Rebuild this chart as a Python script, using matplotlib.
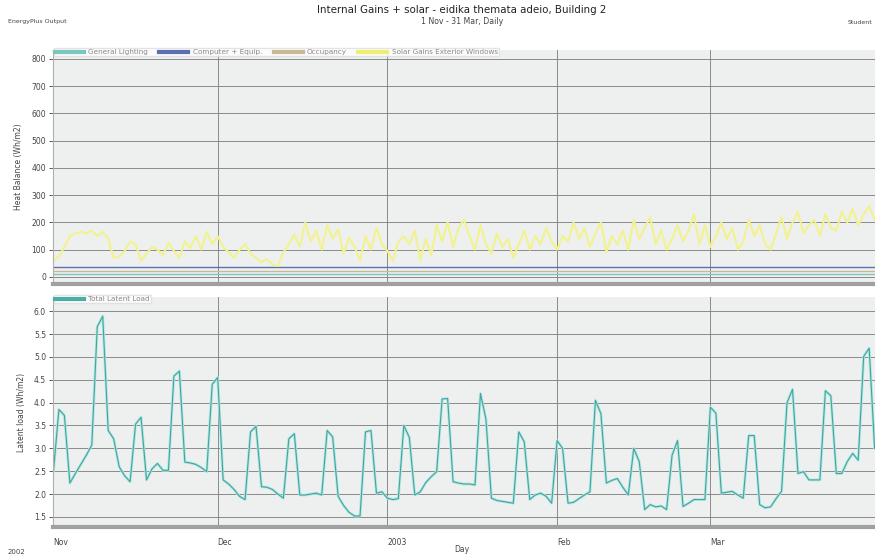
import numpy as np
import pandas as pd
import matplotlib
matplotlib.use("Agg")
import matplotlib.pyplot as plt
import matplotlib.dates as mdates

# ---------------- data ----------------
dates = pd.date_range("2002-11-01", "2003-03-31", freq="D")

latent_load = [
    # Nov
    2.50, 3.85, 3.72, 2.24, 2.45, 2.65, 2.85, 3.07, 5.66, 5.89,
    3.39, 3.21, 2.60, 2.40, 2.27, 3.53, 3.68, 2.31, 2.55, 2.67,
    2.52, 2.52, 4.58, 4.69, 2.70, 2.68, 2.65, 2.58, 2.49, 4.40,
    # Dec
    4.55, 2.31, 2.22, 2.10, 1.95, 1.88, 3.36, 3.48, 2.16, 2.15,
    2.10, 2.00, 1.91, 3.21, 3.32, 1.98, 1.98, 2.00, 2.02, 1.98,
    3.39, 3.25, 1.95, 1.75, 1.60, 1.52, 1.52, 3.36, 3.39, 2.02,
    2.05,
    # Jan
    1.91, 1.88, 1.90, 3.50, 3.24, 1.98, 2.05, 2.25, 2.38, 2.49,
    4.08, 4.09, 2.27, 2.24, 2.22, 2.22, 2.20, 4.20, 3.64, 1.91,
    1.86, 1.84, 1.82, 1.80, 3.36, 3.14, 1.88, 1.98, 2.02, 1.95,
    1.80,
    # Feb
    3.17, 3.00, 1.80, 1.82, 1.90, 1.98, 2.05, 4.05, 3.76, 2.24,
    2.30, 2.34, 2.15, 1.98, 3.00, 2.71, 1.66, 1.77, 1.72, 1.74,
    1.66, 2.85, 3.17, 1.73, 1.80, 1.88, 1.88, 1.88,
    # Mar
    3.90, 3.77, 2.02, 2.04, 2.06, 1.98, 1.91, 3.28, 3.28, 1.77,
    1.70, 1.72, 1.90, 2.06, 4.00, 4.29, 2.45, 2.49, 2.31, 2.31,
    2.31, 4.26, 4.15, 2.45, 2.45, 2.71, 2.89, 2.74, 5.01, 5.19,
    3.00,
]

solar_gains = [
    # Nov
    60, 75, 110, 150, 160, 165, 160, 170, 150, 165,
    140, 70, 75, 95, 130, 120, 60, 85, 110, 100,
    80, 125, 95, 70, 130, 105, 150, 100, 165, 120,
    # Dec
    150, 110, 90, 70, 100, 120, 85, 70, 55, 65,
    45, 40, 90, 120, 155, 110, 200, 130, 170, 100,
    190, 140, 175, 85, 145, 110, 60, 150, 100, 180,
    120,
    # Jan
    95, 60, 130, 150, 120, 170, 60, 140, 80, 190,
    130, 200, 110, 180, 210, 150, 100, 190, 120, 85,
    160, 110, 140, 70, 120, 170, 100, 150, 120, 180,
    130,
    # Feb
    100, 150, 130, 200, 140, 180, 110, 160, 200, 90,
    150, 120, 170, 100, 210, 140, 180, 220, 120, 170,
    100, 140, 190, 130, 170, 230, 120, 190,
    # Mar
    110, 150, 200, 140, 180, 100, 130, 210, 150, 190,
    120, 100, 160, 220, 140, 200, 240, 160, 190, 210,
    150, 230, 180, 170, 240, 200, 250, 190, 230, 260,
    210,
]

computer_equip = [38] * len(dates)
occupancy = [20] * len(dates)
general_lighting = [10] * len(dates)

top_series_names = ["General Lighting", "Computer + Equip.", "Occupancy",
                    "Solar Gains Exterior Windows"]
top_colors = ["#7cc6c0", "#5b6fb2", "#c8b896", "#eeee70"]

month_ticks = pd.to_datetime(["2002-11-01", "2002-12-01", "2003-01-01",
                              "2003-02-01", "2003-03-01"])
month_labels = ["Nov", "Dec", "2003", "Feb", "Mar"]
top_yticks = [0, 100, 200, 300, 400, 500, 600, 700, 800]
bot_yticks = [1.5, 2.0, 2.5, 3.0, 3.5, 4.0, 4.5, 5.0, 5.5, 6.0]

# ---------------- figure ----------------
W, H = 875, 558
fig = plt.figure(figsize=(W / 100, H / 100), dpi=100)
fig.patch.set_facecolor("white")

def ax_rect(x0, y0, x1, y1):
    return [x0 / W, 1 - y1 / H, (x1 - x0) / W, (y1 - y0) / H]

ax1 = fig.add_axes(ax_rect(53, 50, 876, 284))
ax2 = fig.add_axes(ax_rect(53, 297, 876, 527))

xmin = dates[0] - pd.Timedelta(hours=2)
xmax = dates[-1] + pd.Timedelta(hours=6)

for ax in (ax1, ax2):
    ax.set_facecolor("#eef0ef")
    ax.set_xlim(xmin, xmax)
    ax.set_xticks(month_ticks)
    ax.grid(True, axis="both", color="#7a7a7a", linewidth=0.6)
    ax.set_axisbelow(True)
    for s in ("top", "right"):
        ax.spines[s].set_visible(False)
    ax.spines["left"].set_color("#b0b0b0")
    ax.spines["bottom"].set_color("#a0a0a0")
    ax.spines["bottom"].set_linewidth(3)
    ax.tick_params(axis="y", labelsize=5.5, colors="#444444", length=3,
                   width=0.6, pad=2)
    ax.tick_params(axis="x", length=0)

# top panel
ax1.set_ylim(-26, 833)
ax1.set_yticks(top_yticks)
ax1.set_yticklabels([str(v) for v in top_yticks])
ax1.set_xticklabels([])
ax1.plot(dates, general_lighting, color=top_colors[0], lw=1.0,
         label=top_series_names[0])
ax1.plot(dates, computer_equip, color=top_colors[1], lw=1.0,
         label=top_series_names[1])
ax1.plot(dates, occupancy, color=top_colors[2], lw=1.0,
         label=top_series_names[2])
ax1.plot(dates, solar_gains, color="#f2f28e", lw=1.5,
         label=top_series_names[3])
ax1.set_ylabel("Heat Balance (Wh/m2)", fontsize=5.5, color="#444444",
               labelpad=6)
leg1 = ax1.legend(loc="upper left", ncol=4, fontsize=5.2, frameon=True,
                  bbox_to_anchor=(0.0, 1.012), borderaxespad=0.1,
                  handlelength=4.0, handletextpad=0.6, columnspacing=1.6,
                  borderpad=0.15, fancybox=False)
leg1.get_frame().set_facecolor("white")
leg1.get_frame().set_edgecolor("#dddddd")
for t in leg1.get_texts():
    t.set_color("#8a8a8a")
for h, c in zip(leg1.get_lines(), top_colors):
    h.set_linewidth(3)
    h.set_color(c)

# bottom panel
ax2.set_ylim(1.28, 6.31)
ax2.set_yticks(bot_yticks)
ax2.set_yticklabels([f"{v:.1f}" for v in bot_yticks])
ax2.set_xticklabels(month_labels, fontsize=5.5, color="#444444")
ax2.tick_params(axis="x", pad=8)
for lbl in ax2.get_xticklabels():
    lbl.set_horizontalalignment("left")
ax2.plot(dates, latent_load, color="#a6ebe6", lw=2.0)
ax2.plot(dates, latent_load, color="#4f9f9a", lw=0.8,
         label="Total Latent Load")
ax2.set_ylabel("Latent load (Wh/m2)", fontsize=5.5, color="#444444",
               labelpad=6)
leg2 = ax2.legend(loc="upper left", fontsize=5.2, frameon=True,
                  bbox_to_anchor=(0.0, 1.012), borderaxespad=0.1,
                  handlelength=4.0, handletextpad=0.6, borderpad=0.15,
                  fancybox=False)
leg2.get_frame().set_facecolor("white")
leg2.get_frame().set_edgecolor("#dddddd")
for t in leg2.get_texts():
    t.set_color("#8a8a8a")
for h in leg2.get_lines():
    h.set_linewidth(3)
    h.set_color("#4aaea7")

# texts
fig.text(462 / W, 1 - 10 / H, "Internal Gains + solar - eidika themata adeio, Building 2",
         ha="center", va="center", fontsize=7.4, color="#222222")
fig.text(462 / W, 1 - 22 / H, "1 Nov - 31 Mar, Daily", ha="center",
         va="center", fontsize=5.6, color="#444444")
fig.text(8 / W, 1 - 22 / H, "EnergyPlus Output", ha="left", va="center",
         fontsize=4.5, color="#444444")
fig.text(872 / W, 1 - 22 / H, "Student", ha="right", va="center",
         fontsize=4.5, color="#444444")
fig.text(8 / W, 1 - 552 / H, "2002", ha="left", va="center",
         fontsize=5, color="#444444")
fig.text(462 / W, 1 - 550 / H, "Day", ha="center", va="center",
         fontsize=5.5, color="#444444")

fig.savefig("out.png", dpi=100, facecolor="white")
